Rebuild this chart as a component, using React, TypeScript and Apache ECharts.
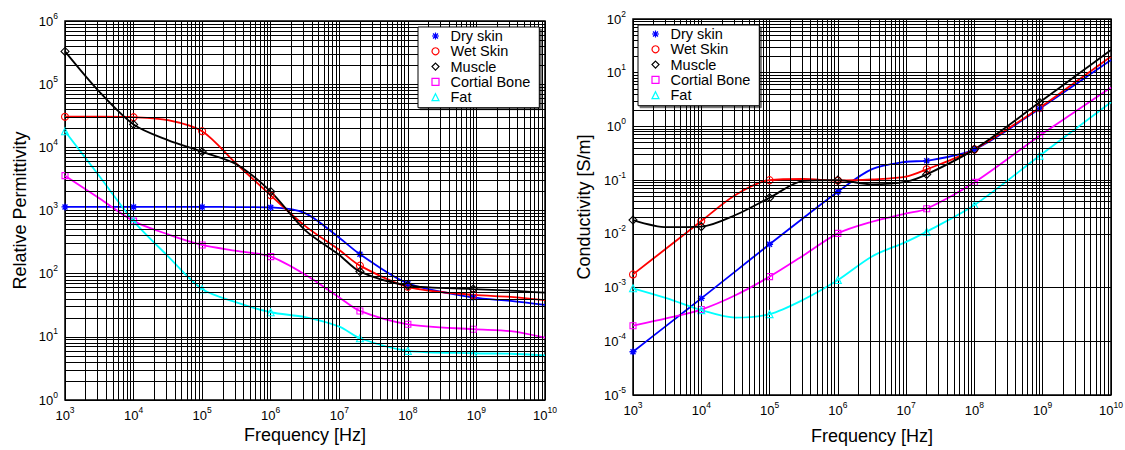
import React, { useEffect, useRef } from 'react';
import * as echarts from 'echarts';

const FONT = '"Liberation Sans", Arial, Helvetica, sans-serif';

// Frequencies (Hz) at which values were read; markers only at markedFreqs
const freqs = [1e3, 3.16e3, 1e4, 3.16e4, 1e5, 3.16e5, 1e6, 3.16e6, 1e7, 2e7, 1e8, 9e8, 3.16e9, 1e10];
const markedFreqs = [1e3, 1e4, 1e5, 1e6, 2e7, 1e8, 9e8];

const tissueNames = ['Dry skin', 'Wet Skin', 'Muscle', 'Cortial Bone', 'Fat'];
const tissueColors = ['#0000ff', '#ff0000', '#000000', '#ff00ff', '#00ffff'];

// Relative permittivity
const permDrySkin = [1140, 1140, 1140, 1140, 1140, 1135, 1120, 910, 370, 203, 70, 42, 37, 32];
const permWetSkin = [30500, 30500, 30000, 27000, 18000, 5500, 1740, 570, 237, 134, 62, 46, 43, 38];
const permMuscle = [330000, 76000, 23000, 13000, 8500, 5400, 1990, 490, 198, 108, 65, 57, 54, 50];
const permBone = [3560, 1560, 680, 420, 285, 229, 186, 97, 42, 25.7, 15.8, 13.2, 12.3, 9.7];
const permFat = [18000, 3520, 680, 190, 57, 35, 24.5, 20.5, 14.5, 9.5, 6.0, 5.5, 5.4, 5.1];

// Conductivity [S/m]
const condDrySkin = [6.4e-5, 2.0e-4, 6.3e-4, 2.0e-3, 6.4e-3, 0.02, 0.061, 0.16, 0.22, 0.23, 0.374, 2.14, 6.3, 17.3];
const condWetSkin = [1.76e-3, 5.5e-3, 0.0173, 0.053, 0.1, 0.105, 0.098, 0.103, 0.116, 0.159, 0.374, 2.23, 7.0, 20];
const condMuscle = [0.0181, 0.0133, 0.0136, 0.0224, 0.047, 0.097, 0.1, 0.0835, 0.0935, 0.128, 0.374, 2.81, 9.06, 26.5];
const condBone = [1.95e-4, 2.7e-4, 3.9e-4, 7.2e-4, 1.6e-3, 4.0e-3, 0.0102, 0.0168, 0.024, 0.0294, 0.091, 0.67, 1.97, 5.3];
const condFat = [9.7e-4, 6.3e-4, 3.8e-4, 2.75e-4, 3.2e-4, 6.0e-4, 1.38e-3, 3.8e-3, 7.1e-3, 0.011, 0.0344, 0.285, 0.94, 2.81];

const permSeries = [permDrySkin, permWetSkin, permMuscle, permBone, permFat];
const condSeries = [condDrySkin, condWetSkin, condMuscle, condBone, condFat];

// Log grid
const minorMultipliers = [2, 3, 4, 5, 6, 7, 8, 9];
const freqDecades = [3, 4, 5, 6, 7, 8, 9];
const permDecades = [0, 1, 2, 3, 4, 5];
const condDecades = [-5, -4, -3, -2, -1, 0, 1];

const ASTERISK = 'path://M5 0L5 10M0 5L10 5M1.46 1.46L8.54 8.54M8.54 1.46L1.46 8.54';
const tissueSymbols = [ASTERISK, 'circle', 'diamond', 'rect', 'triangle'];
const tissueSymbolSizes = [7, 7, 8, 6, 7];

const minorValues = (decades: number[]) => {
  const out: number[] = [];
  decades.forEach((d) => minorMultipliers.forEach((m) => out.push(m * Math.pow(10, d))));
  return out;
};

const supLabel = (v: number) => `{b|10}{s|${Math.round(Math.log10(v))}}`;
const labelRich = {
  b: { fontSize: 13, lineHeight: 20, fontFamily: FONT, color: '#000' },
  s: { fontSize: 8.5, verticalAlign: 'top', fontFamily: FONT, color: '#000' },
};

function makeXAxis(g: number, nameGap: number) {
  return {
    type: 'log', gridIndex: g, logBase: 10, min: 1e3, max: 1e10, splitNumber: 7,
    axisLine: { show: false }, axisTick: { show: false },
    splitLine: { show: true, lineStyle: { color: '#000', width: 1 } },
    axisLabel: { formatter: supLabel, margin: 5, rich: labelRich, color: '#000' },
    name: 'Frequency [Hz]', nameLocation: 'middle', nameGap,
    nameTextStyle: { fontSize: 18, color: '#000', fontFamily: FONT },
  };
}

function makeYAxis(g: number, min: number, max: number, split: number, name: string, nameGap: number) {
  return {
    type: 'log', gridIndex: g, logBase: 10, min, max, splitNumber: split,
    axisLine: { show: false }, axisTick: { show: false },
    splitLine: { show: true, lineStyle: { color: '#000', width: 1 } },
    axisLabel: { formatter: supLabel, margin: 7, rich: labelRich, color: '#000' },
    name, nameLocation: 'middle', nameGap,
    nameTextStyle: { fontSize: 18, color: '#000', fontFamily: FONT },
  };
}

function makeTissueSeries(g: number, values: number[], i: number) {
  const color = tissueColors[i];
  const isAsterisk = tissueSymbols[i] === ASTERISK;
  return {
    type: 'line', name: tissueNames[i], xAxisIndex: g, yAxisIndex: g, z: 3,
    smooth: 0.3, showSymbol: true,
    symbolSize: tissueSymbolSizes[i],
    lineStyle: { color, width: 1.8 },
    itemStyle: { color: isAsterisk ? color : 'none', borderColor: color, borderWidth: isAsterisk ? 1.4 : 1.1 },
    emphasis: { disabled: true },
    data: freqs.map((f, k) => ({
      value: [f, values[k]],
      symbol: markedFreqs.includes(f) ? tissueSymbols[i] : 'none',
    })),
  };
}

function makeGridLineSeries(g: number, yDecades: number[]) {
  return {
    type: 'line', xAxisIndex: g, yAxisIndex: g, z: 1, silent: true, data: [],
    markLine: {
      silent: true, symbol: ['none', 'none'], label: { show: false },
      lineStyle: { color: '#000', type: 'solid', width: 1 },
      emphasis: { disabled: true },
      data: [
        ...minorValues(freqDecades).map((v) => ({ xAxis: v })),
        ...minorValues(yDecades).map((v) => ({ yAxis: v })),
      ],
    },
  };
}

function makeLegend(left: number, top: number) {
  return {
    orient: 'vertical', left, top, itemWidth: 7, itemHeight: 7, itemGap: 0.3,
    symbolKeepAspect: true,
    padding: [1.5, 9, 3, 11.5], backgroundColor: '#fff', borderColor: '#000', borderWidth: 1,
    shadowColor: 'rgba(0,0,0,0.55)', shadowOffsetX: 2, shadowOffsetY: 2, shadowBlur: 0,
    selectedMode: false, z: 10,
    textStyle: { fontSize: 14.5, lineHeight: 15, color: '#000', fontFamily: FONT, padding: [0, 0, 0, 6.5] },
    data: tissueNames.map((name, i) => ({
      name,
      icon: tissueSymbols[i],
      itemStyle: {
        color: tissueSymbols[i] === ASTERISK ? tissueColors[i] : 'none',
        borderColor: tissueColors[i],
        borderWidth: 1.2,
      },
    })),
  };
}

export default function App() {
  const ref = useRef<HTMLDivElement>(null);
  useEffect(() => {
    if (!ref.current) return;
    const chart = echarts.init(ref.current, null, { renderer: 'svg' });
    chart.setOption({
      animation: false,
      backgroundColor: '#fff',
      textStyle: { fontFamily: FONT },
      grid: [
        { left: 65, top: 21, width: 480, height: 379, show: true, borderColor: '#000', borderWidth: 1.5, backgroundColor: 'transparent', outerBoundsMode: 'none' },
        { left: 633, top: 19, width: 478, height: 376, show: true, borderColor: '#000', borderWidth: 1.5, backgroundColor: 'transparent', outerBoundsMode: 'none' },
      ],
      xAxis: [makeXAxis(0, 25), makeXAxis(1, 31.5)],
      yAxis: [
        makeYAxis(0, 1, 1e6, 6, 'Relative Permittivity', 36),
        makeYAxis(1, 1e-5, 1e2, 7, 'Conductivity [S/m]', 40),
      ],
      legend: [makeLegend(418, 27), makeLegend(638, 25)],
      series: [
        makeGridLineSeries(0, permDecades),
        makeGridLineSeries(1, condDecades),
        ...permSeries.map((v, i) => makeTissueSeries(0, v, i)),
        ...condSeries.map((v, i) => makeTissueSeries(1, v, i)),
      ],
    });
    return () => chart.dispose();
  }, []);
  return <div ref={ref} style={{ position: 'absolute', left: 0, top: 0, width: 1125, height: 450 }} />;
}
